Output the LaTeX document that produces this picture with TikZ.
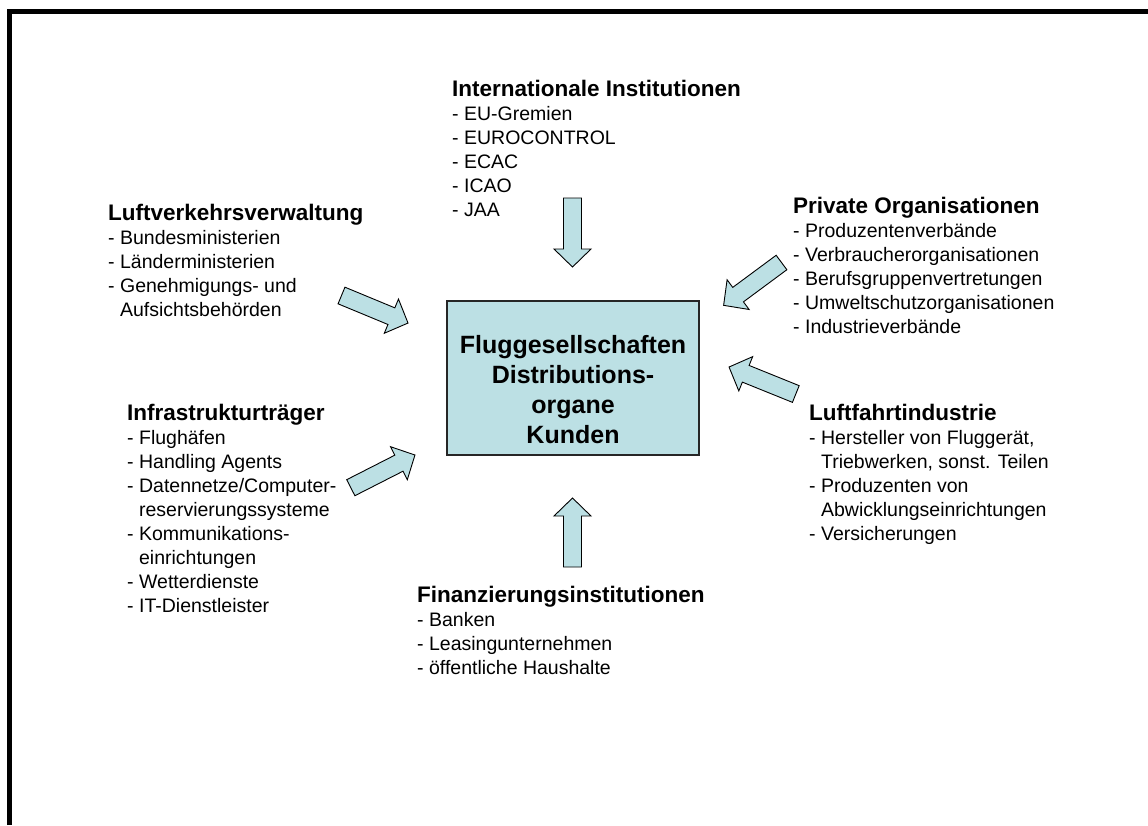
\documentclass[tikz,border=0pt]{standalone}
\usepackage{fontspec}
\setmainfont{Liberation Sans}
\definecolor{paleblue}{RGB}{188,224,228}
\newcommand{\hd}[1]{{\fontsize{22.5}{24}\selectfont\bfseries #1}}
\newcommand{\ind}{\phantom{- }}
% block arrow: tail centre, direction (degrees), total length
\newcommand{\blockarrow}[3]{%
  \draw[blockarrow, shift={(#1)}, rotate=#2]
    (0,-9) -- ({#3-18},-9) -- ({#3-18},-18.5) -- (#3,0)
    -- ({#3-18},18.5) -- ({#3-18},9) -- (0,9) -- cycle;}
\tikzset{
  listtext/.style={anchor=north west, inner sep=0pt, align=left,
    font=\fontsize{19.5}{24}\selectfont},
  corebox/.style={draw=black!85, line width=1.3pt, fill=paleblue,
    minimum width=252pt, minimum height=154pt, inner sep=0pt},
  coretext/.style={align=center, inner sep=0pt,
    font=\fontsize{25}{30}\selectfont\bfseries},
  blockarrow/.style={draw=black, line width=0.9pt, fill=paleblue, line join=miter},
  frameline/.style={line width=5pt, line join=miter}
}
\begin{document}
\begin{tikzpicture}[x=1pt, y=-1pt]
\useasboundingbox (0,0) rectangle (1148,825);
\fill[white] (0,0) rectangle (1148,825);

% outer frame (top and left edges)
\coordinate (fBL) at (9.5,825);
\coordinate (fTL) at (9.5,11.5);
\coordinate (fTR) at (1148,11.5);
\draw[frameline] (fBL) -- (fTL) -- (fTR);

% central box
\node[corebox] (core) at (573,378) {};
\node[coretext] (coretext) at (573,390)
  {Fluggesellschaften\\Distributions-\\organe\\Kunden};

% surrounding groups
\node[listtext] (intl) at (452,80)
  {\hd{Internationale Institutionen}\\- EU-Gremien\\- EUROCONTROL\\- ECAC\\- ICAO\\- JAA};
\node[listtext] (admin) at (108,204)
  {\hd{Luftverkehrsverwaltung}\\- Bundesministerien\\- Länderministerien\\- Genehmigungs- und\\\ind Aufsichtsbehörden};
\node[listtext] (priv) at (793,197)
  {\hd{Private Organisationen}\\- Produzentenverbände\\- Verbraucherorganisationen\\- Berufsgruppenvertretungen\\- Umweltschutzorganisationen\\- Industrieverbände};
\node[listtext] (infra) at (127,404)
  {\hd{Infrastrukturträger}\\- Flughäfen\\- Handling Agents\\- Datennetze/Computer-\\\ind reservierungssysteme\\- Kommunikations-\\\ind einrichtungen\\- Wetterdienste\\- IT-Dienstleister};
\node[listtext] (indus) at (809,404)
  {\hd{Luftfahrtindustrie}\\- Hersteller von Fluggerät,\\\ind Triebwerken, sonst. Teilen\\- Produzenten von\\\ind Abwicklungseinrichtungen\\- Versicherungen};
\node[listtext] (fin) at (417,586)
  {\hd{Finanzierungsinstitutionen}\\- Banken\\- Leasingunternehmen\\- öffentliche Haushalte};

% arrow tails
\coordinate (tIntl) at (572.5,198);
\coordinate (tFin) at (572.5,567);
\coordinate (tAdmin) at (341.5,295.5);
\coordinate (tPriv) at (781.5,262.5);
\coordinate (tInfra) at (350.8,487.7);
\coordinate (tIndus) at (795.8,394);

\blockarrow{tIntl}{-90}{69}
\blockarrow{tFin}{90}{69}
\blockarrow{tAdmin}{-22.5}{72}
\blockarrow{tPriv}{-143.5}{72}
\blockarrow{tInfra}{27}{72}
\blockarrow{tIndus}{158}{72}
\end{tikzpicture}
\end{document}
